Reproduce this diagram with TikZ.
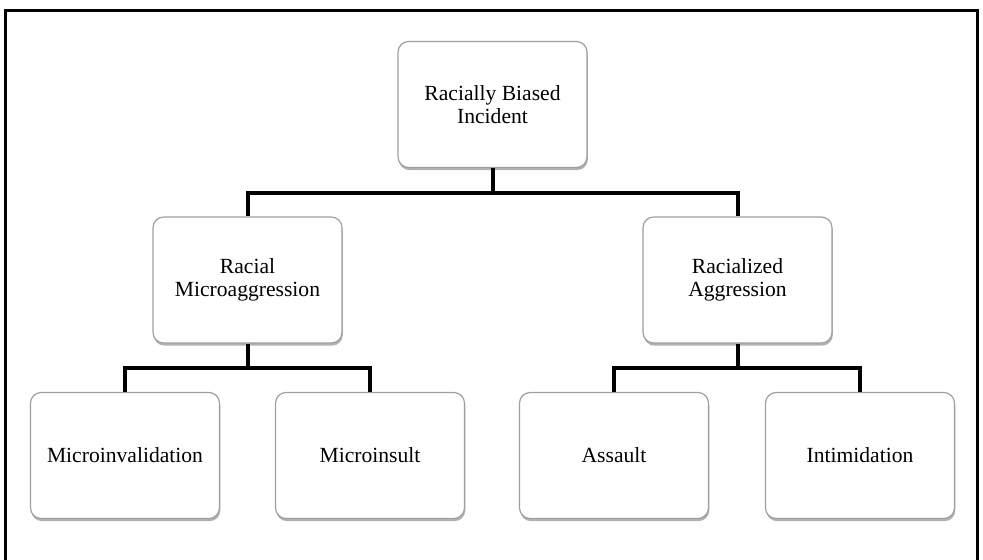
\documentclass[tikz,border=0pt]{standalone}
\usepackage{fontspec}
\setmainfont{Liberation Serif}
\usepackage{tikz}
\usetikzlibrary{shadows}

\begin{document}
\begin{tikzpicture}
		[x=0.75pt, y=-0.75pt,
		 box/.style = {draw=gray!75, line width=0.9pt, fill=white, rounded corners=8pt,
		   minimum width=141.75pt, minimum height=94.5pt, align=center,
		   font=\fontsize{16.2}{16.8}\selectfont,
		   drop shadow={shadow xshift=0.6pt, shadow yshift=-2pt, fill=black, opacity=0.3}},
		 conn/.style = {line width=3pt, black},
		 frame/.style = {line width=2.4pt, black}]
        \useasboundingbox (0,0) rectangle (983,560);
        \draw[frame] (5.5,560) -- (5.5,10.5) -- (977.5,10.5) -- (977.5,560);

        \node[box] (incident) at (492.5,104.5) {Racially Biased\\Incident};
        \node[box] (micro) at (247.5,280) {Racial\\Microaggression};
        \node[box] (aggr) at (737.5,280) {Racialized\\Aggression};
        \node[box] (invalid) at (125,455.5) {Microinvalidation};
        \node[box] (insult) at (370,455.5) {Microinsult};
        \node[box] (assault) at (614,455.5) {Assault};
        \node[box] (intim) at (860,455.5) {Intimidation};

        \draw[conn] (incident.south) -- ++(0,25) -| (micro.north);
        \draw[conn] (incident.south) -- ++(0,25) -| (aggr.north);
        \draw[conn] (micro.south) -- ++(0,24.5) -| (invalid.north);
        \draw[conn] (micro.south) -- ++(0,24.5) -| (insult.north);
        \draw[conn] (aggr.south) -- ++(0,24.5) -| (assault.north);
        \draw[conn] (aggr.south) -- ++(0,24.5) -| (intim.north);
	\end{tikzpicture}
\end{document}
